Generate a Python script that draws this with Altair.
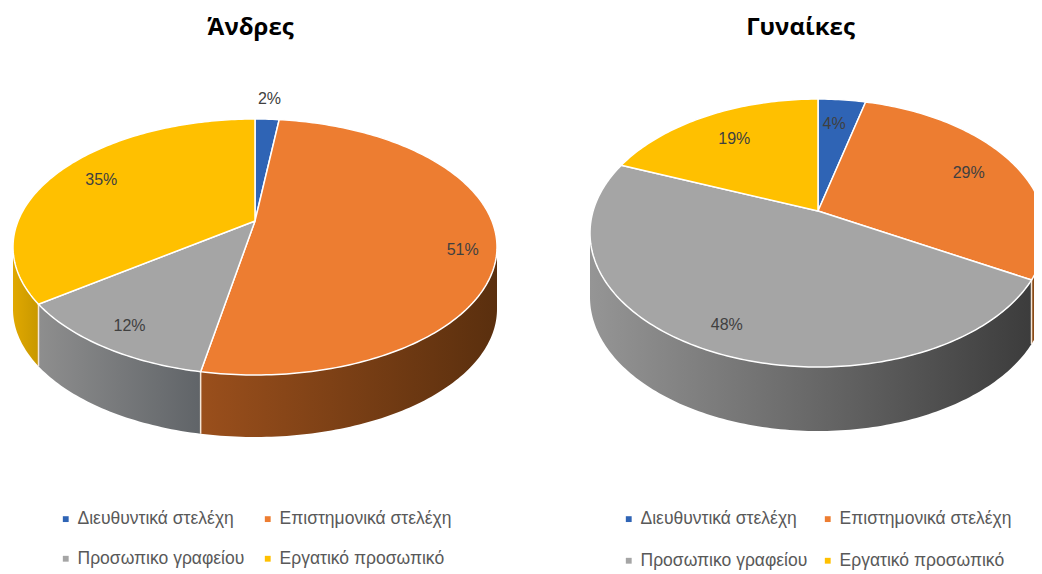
import math
import altair as alt
import pandas as pd

CATEGORIES = ["Διευθυντικά στελέχη", "Επιστημονικά στελέχη", "Προσωπικο γραφείου", "Εργατικό προσωπικό"]
COLORS = ["#2F64B5", "#ED7D31", "#A5A5A5", "#FFC000"]
MEN = [2, 51, 12, 35]
WOMEN = [4, 29, 48, 19]
MEN_LABEL_POS = [1.2, 0.86, 0.83, 0.8]
MEN_LABEL_TURN = [0, 6, 0, 0]
WOMEN_LABEL_POS = [0.78, 0.78, 0.82, 0.76]
WOMEN_LABEL_TURN = [-1, 0, 0, 0]
MEN_WALLS = [("#2F64B5", "#2F64B5"), ("#9A4F1C", "#5A2F0E"), ("#8E8E8E", "#606468"), ("#E0A800", "#C89800")]
WOMEN_WALLS = [("#2F64B5", "#2F64B5"), ("#8A4A16", "#8A4A16"), ("#959595", "#3C3C3C"), ("#E0A800", "#C89800")]

TOP = 43
PANEL_H = 510


def ray(deg, geo):
    """Where the ray at this pie angle, from the tilted pie's apex, meets its ellipse."""
    a = math.radians(deg)
    dx, dy = math.sin(a) * geo["rx"], -math.cos(a) * geo["ry"]
    oy = geo["ay"] - geo["cy"]
    A = (dx / geo["rx"]) ** 2 + (dy / geo["ry"]) ** 2
    B = 2 * dy * oy / geo["ry"] ** 2
    C = (oy / geo["ry"]) ** 2 - 1
    t = (-B + math.sqrt(B * B - 4 * A * C)) / (2 * A)
    return geo["ax"] + dx * t, geo["ay"] + dy * t


def panel(title, shares, label_pos, label_turn, walls, geo, x0, panel_w, title_dx, legend_x, legend_pad, row_pad):
    xs = alt.Scale(domain=[x0, x0 + panel_w])
    ys = alt.Scale(domain=[TOP + PANEL_H, TOP])
    X = lambda f: alt.X(f, type="quantitative", scale=xs, axis=None)
    Y = lambda f: alt.Y(f, type="quantitative", scale=ys, axis=None)

    slice_rows, wall_rows, label_rows, edge_rows = [], [], [], []
    cum = 0
    for cat, share, f, turn in zip(CATEGORIES, shares, label_pos, label_turn):
        a0, a1 = cum * 3.6, (cum + share) * 3.6
        cum += share
        n = max(2, int(a1 - a0))
        angles = [a0 + (a1 - a0) * i / n for i in range(n + 1)]
        pts = [ray(a, geo) for a in angles]
        ring = [(geo["ax"], geo["ay"])] + pts + [(geo["ax"], geo["ay"])]
        slice_rows += [{"cat": cat, "x": p[0], "y": p[1], "o": i} for i, p in enumerate(ring)]
        wall_rows += [{"cat": cat, "x": p[0], "y": p[1], "y2": p[1] + geo["depth"]}
                      for p in pts if p[1] >= geo["cy"]]
        px, py = ray(a1, geo)
        if py >= geo["cy"] and cum < 100:
            edge_rows.append({"x": px, "y": py, "y2": py + geo["depth"]})
        mx, my = ray((a0 + a1) / 2 + turn, geo)
        label_rows.append({"x": geo["ax"] + f * (mx - geo["ax"]),
                           "y": geo["ay"] + f * (my - geo["ay"]), "t": f"{share}%"})

    layers = []
    wall_df = pd.DataFrame(wall_rows)
    for cat, (c0, c1) in zip(CATEGORIES, walls):
        sub = wall_df[wall_df["cat"] == cat] if len(wall_df) else wall_df
        if len(sub) < 2:
            continue
        grad = alt.Gradient(gradient="linear", x1=0, x2=1, y1=0, y2=0,
                            stops=[alt.GradientStop(color=c0, offset=0), alt.GradientStop(color=c1, offset=1)])
        layers.append(alt.Chart(sub).mark_area(color=grad, clip=True).encode(x=X("x"), y=Y("y"), y2="y2"))
    if edge_rows:
        layers.append(alt.Chart(pd.DataFrame(edge_rows)).mark_rule(color="#F4E6D8", strokeWidth=1.5)
                      .encode(x=X("x"), y=Y("y"), y2="y2"))

    legend = alt.Legend(title=None, orient="none", direction="horizontal", legendX=legend_x, legendY=468, columns=2,
                        symbolType="square", symbolSize=34, symbolStrokeWidth=0, labelFontSize=17.5,
                        labelFont="Liberation Sans", labelColor="#595959", rowPadding=row_pad, padding=0,
                        columnPadding=legend_pad, labelOffset=3, gridAlign="each", labelLimit=260)
    layers.append(
        alt.Chart(pd.DataFrame(slice_rows)).mark_line(stroke="white", strokeWidth=1.5, clip=True, interpolate="linear")
        .encode(x=X("x"), y=Y("y"), order="o:Q", detail="cat:N",
                fill=alt.Fill("cat:N", scale=alt.Scale(domain=CATEGORIES, range=COLORS), legend=legend))
    )
    layers.append(
        alt.Chart(pd.DataFrame(label_rows)).mark_text(fontSize=16, color="#404040", font="Liberation Sans")
        .encode(x=X("x"), y=Y("y"), text="t:N")
    )
    return alt.layer(*layers).properties(
        width=panel_w, height=PANEL_H,
        title=alt.TitleParams(title, fontSize=24, fontWeight="bold", font="Open Sans", color="#000000",
                              anchor="middle", dx=title_dx, dy=8, offset=10),
    )


men_geo = {"ax": 255, "ay": 222, "cy": 248, "rx": 242, "ry": 128, "depth": 62}
women_geo = {"ax": 818, "ay": 212, "cy": 234, "rx": 228, "ry": 134, "depth": 64}

chart = alt.hconcat(
    panel("Άνδρες", MEN, MEN_LABEL_POS, MEN_LABEL_TURN, MEN_WALLS, men_geo, 8, 513, -14, 49, 14, 21),
    panel("Γυναίκες", WOMEN, WOMEN_LABEL_POS, WOMEN_LABEL_TURN, WOMEN_WALLS, women_geo, 521, 513, 23, 99, 11, 23),
    spacing=0,
).resolve_scale(fill="independent").resolve_legend(fill="independent").properties(
    padding={"left": 0, "right": 0, "top": 8, "bottom": 0}
).configure_view(strokeWidth=0)

chart.save("out.html", embed_options={"renderer": "svg", "actions": False})
